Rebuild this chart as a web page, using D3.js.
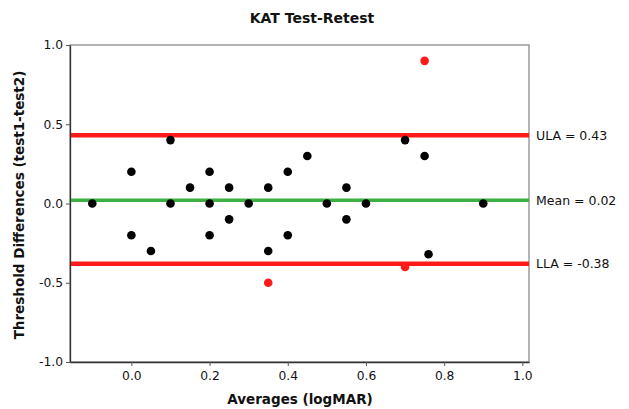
<!DOCTYPE html>
<html><head><meta charset="utf-8">
<script src="https://cdn.jsdelivr.net/npm/d3@7"></script>
<style>
html,body{margin:0;padding:0;background:#fff;}
svg{display:block;font-family:"DejaVu Sans",Verdana,sans-serif;}
</style></head>
<body><div id="chart"></div>
<script>
const title = "KAT Test-Retest";
const xLabel = "Averages (logMAR)";
const yLabel = "Threshold Differences (test1-test2)";
const xTicks = [0.0, 0.2, 0.4, 0.6, 0.8, 1.0];
const yTicks = [-1.0, -0.5, 0.0, 0.5, 1.0];
// black points: averages and differences
const avgBlack  = [-0.1, 0.0, 0.0, 0.05, 0.1, 0.1, 0.15, 0.2, 0.2, 0.2, 0.25, 0.25, 0.3, 0.35, 0.35, 0.4, 0.4, 0.45, 0.5, 0.55, 0.55, 0.6, 0.7, 0.75, 0.76, 0.9];
const diffBlack = [0.0, 0.2, -0.2, -0.3, 0.4, 0.0, 0.1, 0.2, 0.0, -0.2, 0.1, -0.1, 0.0, 0.1, -0.3, 0.2, -0.2, 0.3, 0.0, 0.1, -0.1, 0.0, 0.4, 0.3, -0.32, 0.0];
// red points (outliers)
const avgRed  = [0.35, 0.7, 0.75];
const diffRed = [-0.5, -0.4, 0.9];
// reference lines
const refNames  = ["ULA", "Mean", "LLA"];
const refValues = [0.43, 0.02, -0.38];
const refColors = ["#ff1a1a", "#3cb043", "#ff1a1a"];

const W = 629, H = 409;
const m = {left: 70, right: 100, top: 45, bottom: 47};
const svg = d3.select("#chart").append("svg").attr("width", W).attr("height", H);

const x = d3.scaleLinear().domain([-0.157, 1.017]).range([m.left, W - m.right]);
const y = d3.scaleLinear().domain([-1, 1]).range([H - m.bottom, m.top]);
const fmt1 = v => v.toFixed(1);
const fmt2 = v => v.toFixed(2);

// frame top/right
svg.append("rect").attr("x", m.left).attr("y", m.top)
  .attr("width", x.range()[1] - m.left).attr("height", y.range()[0] - m.top)
  .attr("fill", "none").attr("stroke", "#8a8a8a").attr("stroke-width", 1.3);

const xAxis = svg.append("g").attr("transform", `translate(0,${y.range()[0]})`)
  .call(d3.axisBottom(x).tickValues(xTicks).tickFormat(fmt1).tickSize(4).tickSizeOuter(0).tickPadding(5));
const yAxis = svg.append("g").attr("transform", `translate(${m.left},0)`)
  .call(d3.axisLeft(y).tickValues(yTicks).tickFormat(fmt1).tickSize(4).tickSizeOuter(0).tickPadding(3));
[xAxis, yAxis].forEach(a => {
  a.selectAll("path").attr("stroke", "#333").attr("stroke-width", 1.3);
  a.selectAll("line").attr("stroke", "#555");
  a.selectAll("text").attr("font-size", 12.3).attr("fill", "#111").attr("font-family", "DejaVu Sans, sans-serif");
});

// reference lines
refValues.forEach((v, i) => {
  svg.append("line").attr("x1", m.left + 1).attr("x2", x.range()[1])
    .attr("y1", y(v)).attr("y2", y(v))
    .attr("stroke", refColors[i]).attr("stroke-width", i === 1 ? 3.5 : 4.5);
  svg.append("text").attr("x", x.range()[1] + 7).attr("y", y(v)).attr("dy", "0.36em")
    .attr("font-size", 12.5).attr("fill", "#111")
    .text(`${refNames[i]} = ${fmt2(v)}`);
});

// points
svg.append("g").selectAll("circle").data(d3.range(avgBlack.length)).join("circle")
  .attr("cx", i => x(avgBlack[i])).attr("cy", i => y(diffBlack[i])).attr("r", 4.3).attr("fill", "#000");
svg.append("g").selectAll("circle").data(d3.range(avgRed.length)).join("circle")
  .attr("cx", i => x(avgRed[i])).attr("cy", i => y(diffRed[i])).attr("r", 4.3).attr("fill", "#ff1a1a");

// titles
svg.append("text").attr("x", 312).attr("y", 23).attr("text-anchor", "middle")
  .attr("font-size", 14).attr("font-weight", "bold").attr("fill", "#111").text(title);
svg.append("text").attr("x", 300).attr("y", 404).attr("text-anchor", "middle")
  .attr("font-size", 13.5).attr("font-weight", "bold").attr("fill", "#111").text(xLabel);
svg.append("text").attr("transform", "translate(24,205) rotate(-90)").attr("text-anchor", "middle")
  .attr("font-size", 13.5).attr("font-weight", "bold").attr("fill", "#111").text(yLabel);
</script></body></html>
